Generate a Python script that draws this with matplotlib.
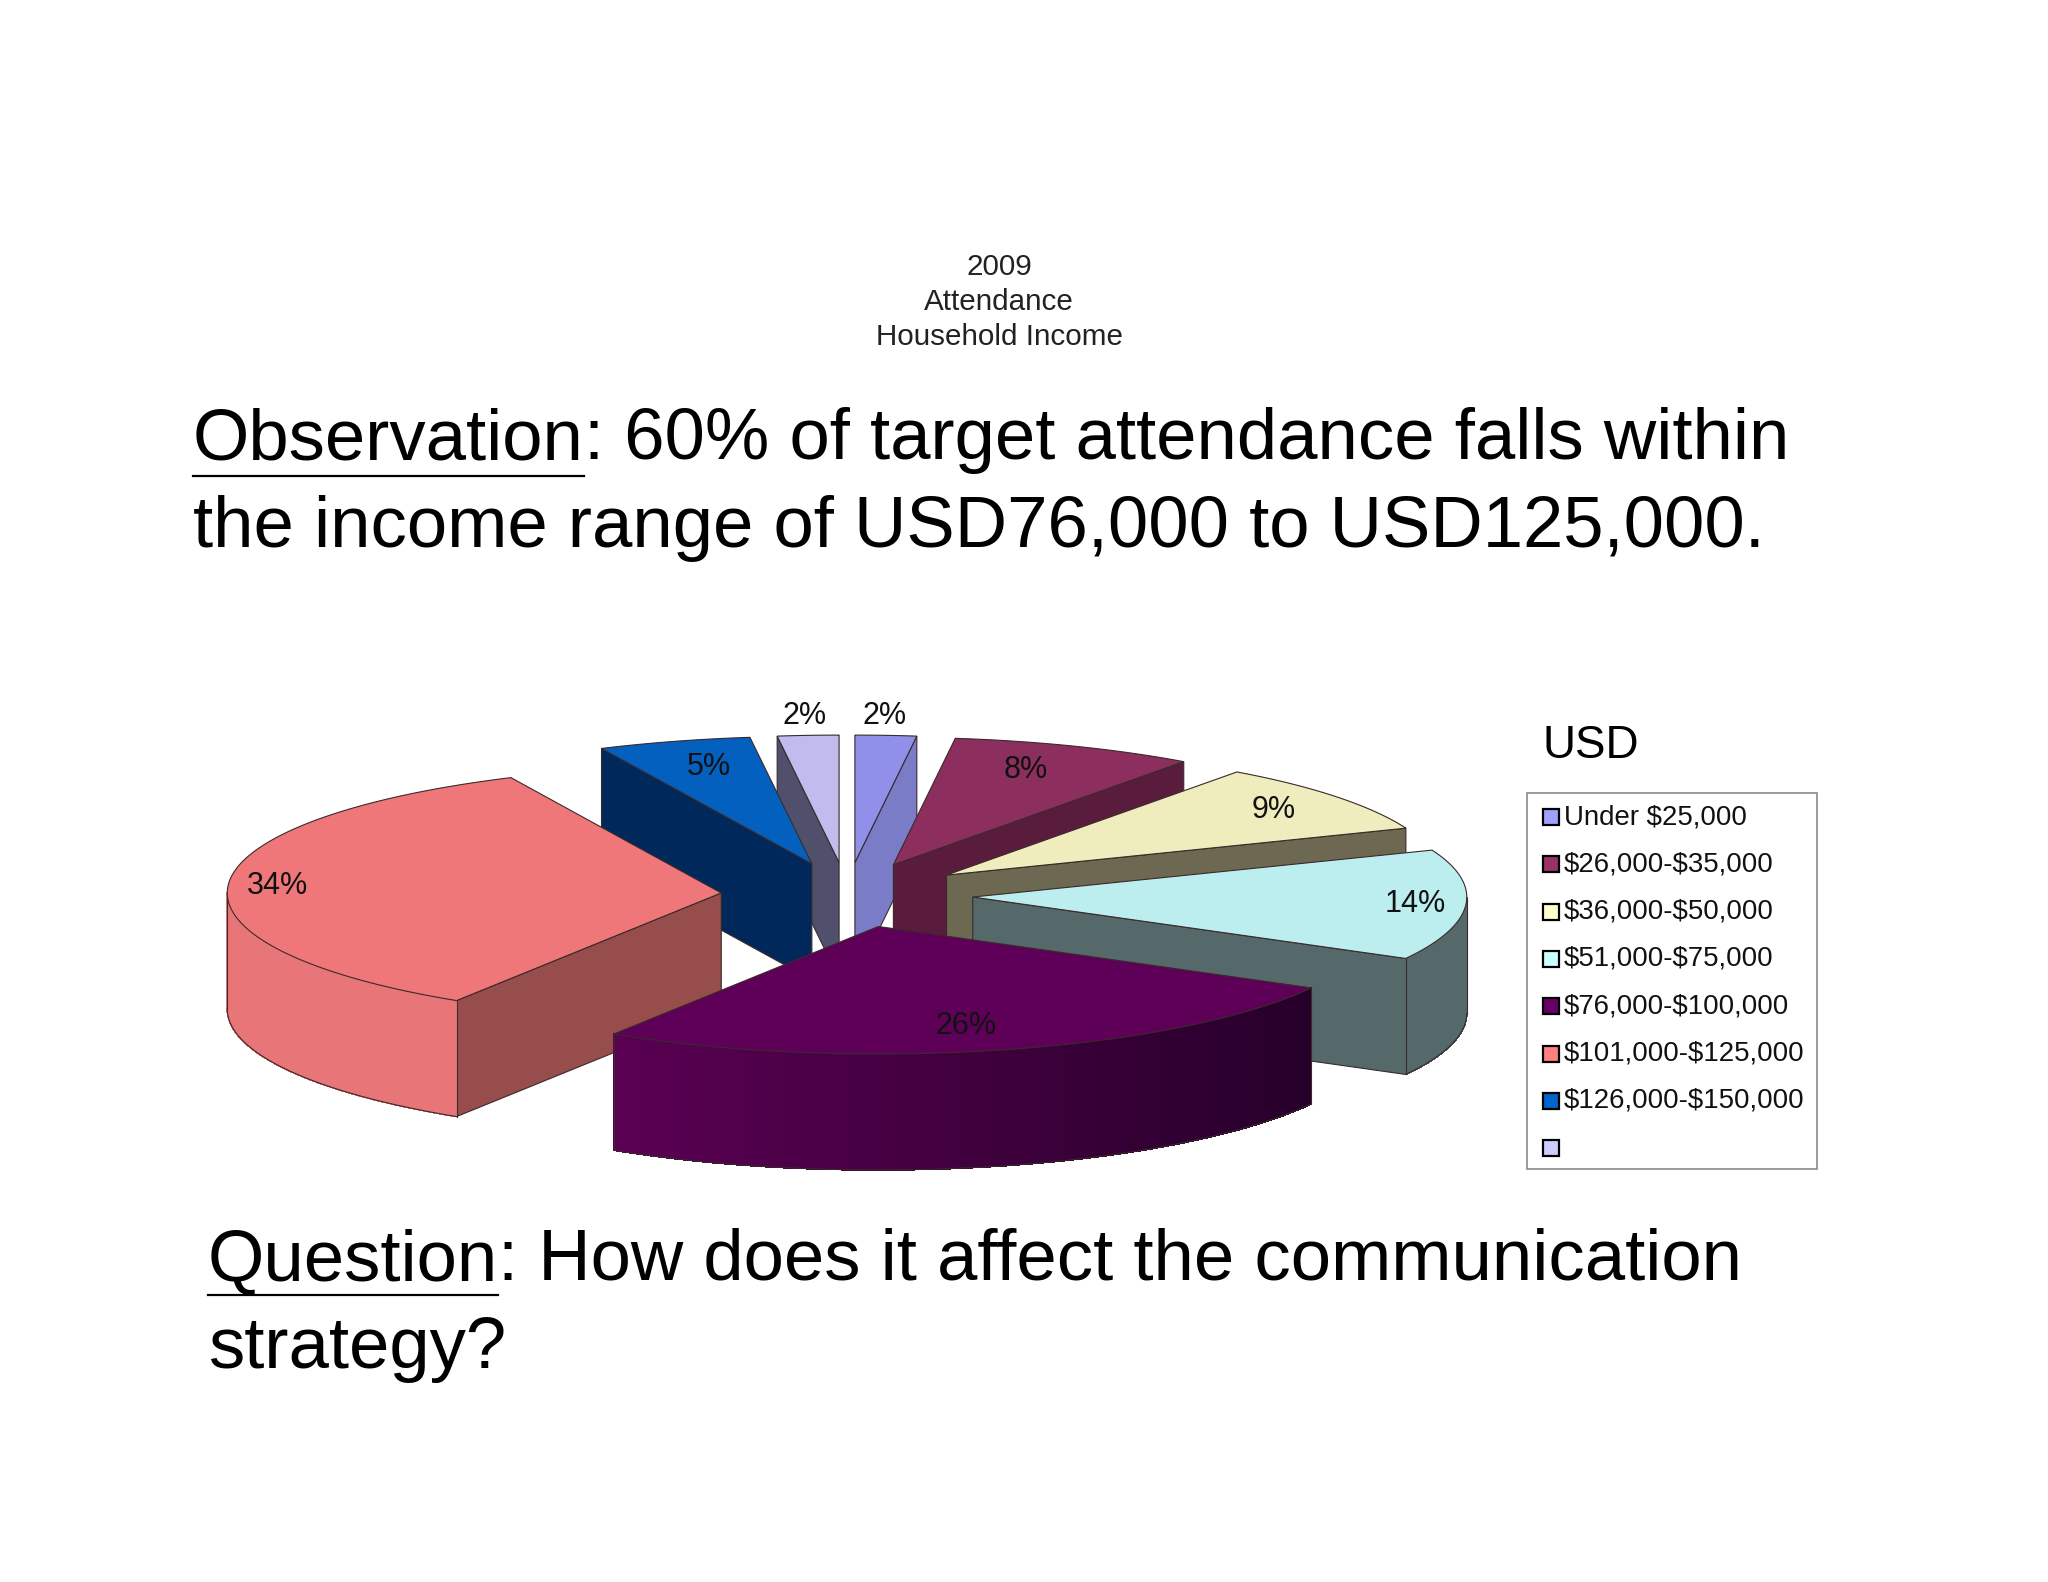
import numpy as np
import matplotlib
matplotlib.use('Agg')
import matplotlib.pyplot as plt
from matplotlib.colors import to_rgb
from matplotlib.patches import Polygon, Rectangle

plt.rcParams['font.family'] = ['Liberation Sans', 'DejaVu Sans']

# data
income_labels = ['Under \\$25,000', '\\$26,000-\\$35,000', '\\$36,000-\\$50,000', '\\$51,000-\\$75,000',
                 '\\$76,000-\\$100,000', '\\$101,000-\\$125,000', '\\$126,000-\\$150,000', '']
shares = [2, 8, 9, 14, 26, 34, 5, 2]

# colours per slice
top_colors = ['#9090ea', '#8c2e5e', '#efedbd', '#bceef0', '#5f0058', '#ef777a', '#0460bf', '#c0bcee']
wall_colors = ['#7a7cc8', '#5a1c3c', '#6c6852', '#55686a', '#3c0036', '#974d4c', '#00285a', '#50506c']
arc_left = ['#7a7cc8', '#5a1c3c', '#6c6852', '#55686a', '#5a0052', '#e87678', '#00285a', '#50506c']
arc_right = ['#7a7cc8', '#5a1c3c', '#6c6852', '#55686a', '#26002a', '#e87678', '#00285a', '#50506c']
legend_colors = ['#a0a0ff', '#993366', '#ffffcc', '#ccffff', '#660066', '#ff8080', '#0066cc', '#ccccff']

# far slices first
draw_order = [7, 0, 1, 6, 2, 5, 3, 4]
# distance of each % label from slice tip, as a fraction of radius, plus a small sideways nudge
label_r = [1.15, 0.80, 0.83, 0.90, 0.81, 0.91, 0.79, 1.15]
label_dx = [-6, -13, 3, -1, -12, 5, 6, 1]

cx, cy = 847, 895
radius, tilt, depth, explode = 494, 0.258, 116, 126
edge = '#3a2a2a'

fig = plt.figure(figsize=(20.48, 15.82), dpi=100)
ax = fig.add_axes([0, 0, 1, 1])
ax.set_xlim(0, 2048)
ax.set_ylim(1582, 0)
ax.axis('off')


def project(ang, r, tip):
    # angle in degrees clockwise from 12 o'clock
    a = np.radians(ang)
    return tip[0] + r * np.sin(a), tip[1] - r * np.cos(a) * tilt


ends = np.cumsum([0] + shares) / sum(shares) * 360
for i in draw_order:
    z = 1 + draw_order.index(i)
    a1, a2 = ends[i], ends[i + 1]
    mid = (a1 + a2) / 2
    tip = project(mid, explode, (cx, cy))
    angs = np.linspace(a1, a2, 120)
    xs, ys = project(angs, radius, tip)

    # radial walls that face the viewer
    for ang, visible in ((a1, np.sin(np.radians(a1)) < 0), (a2, np.sin(np.radians(a2)) > 0)):
        if visible:
            ex, ey = project(ang, radius, tip)
            ax.add_patch(Polygon([tip, (ex, ey), (ex, ey + depth), (tip[0], tip[1] + depth)],
                                 fc=wall_colors[i], ec=edge, lw=0.8, zorder=z))

    # outer curved wall, drawn as thin strips for the shading
    front = np.cos(np.radians(angs)) < 0
    if front.any():
        fx, fy = xs[front], ys[front]
        span = max(fx.max() - fx.min(), 1)
        c_l, c_r = np.array(to_rgb(arc_left[i])), np.array(to_rgb(arc_right[i]))
        for j in range(len(fx) - 1):
            f = (min(fx[j], fx[j + 1]) - fx.min()) / span
            col = c_l + (c_r - c_l) * f
            ax.add_patch(Polygon([(fx[j], fy[j]), (fx[j + 1], fy[j + 1]),
                                  (fx[j + 1], fy[j + 1] + depth), (fx[j], fy[j] + depth)],
                                 fc=col, ec=col, lw=0.6, antialiased=False, zorder=z))
        ax.plot(fx, fy + depth, color=edge, lw=0.8, zorder=z)
        for k in (0, -1):
            ax.plot([fx[k], fx[k]], [fy[k], fy[k] + depth], color=edge, lw=0.8, zorder=z)

    # top face
    ax.add_patch(Polygon(np.column_stack([np.r_[tip[0], xs], np.r_[tip[1], ys]]),
                         fc=top_colors[i], ec=edge, lw=0.8, zorder=z + 0.5))

    lx, ly = project(mid, radius * label_r[i], tip)
    ax.text(lx + label_dx[i], ly, f'{shares[i]}%', ha='center', va='center', fontsize=22,
            color='#111111', zorder=20)

# chart title
for y, line in zip((267, 302, 337), ('2009', 'Attendance', 'Household Income')):
    ax.text(999, y, line, ha='center', va='center', fontsize=21.3, color='#222222')


def big_text(x, y, head, rest, drop):
    t = ax.text(x, y, head, fontsize=52.2, va='baseline', color='black')
    fig.canvas.draw()
    w = t.get_window_extent().width
    ax.plot([x, x + w], [y + drop, y + drop], color='black', lw=1.6)
    ax.text(x + w, y, rest, fontsize=52.2, va='baseline', color='black')


big_text(193, 459, 'Observation', ': 60% of target attendance falls within', 17)
ax.text(193, 547, 'the income range of USD76,000 to USD125,000.', fontsize=52.2, va='baseline', color='black')
big_text(208, 1280, 'Question', ': How does it affect the communication', 15)
ax.text(208, 1368, 'strategy?', fontsize=52.2, va='baseline', color='black')

# legend
ax.text(1543, 758, 'USD', fontsize=33, va='baseline', color='black')
ax.add_patch(Rectangle((1527, 793), 290, 376, fc='white', ec='#8a8a8a', lw=1.2, zorder=2))
for i, lab in enumerate(income_labels):
    y = 817 + i * 47.3
    ax.add_patch(Rectangle((1543, y - 8), 16, 16, fc=legend_colors[i], ec='black', lw=1.6, zorder=3))
    ax.text(1564, y, lab, fontsize=19.9, va='center', color='#111111', zorder=3)

fig.savefig('out.png', dpi=100)
